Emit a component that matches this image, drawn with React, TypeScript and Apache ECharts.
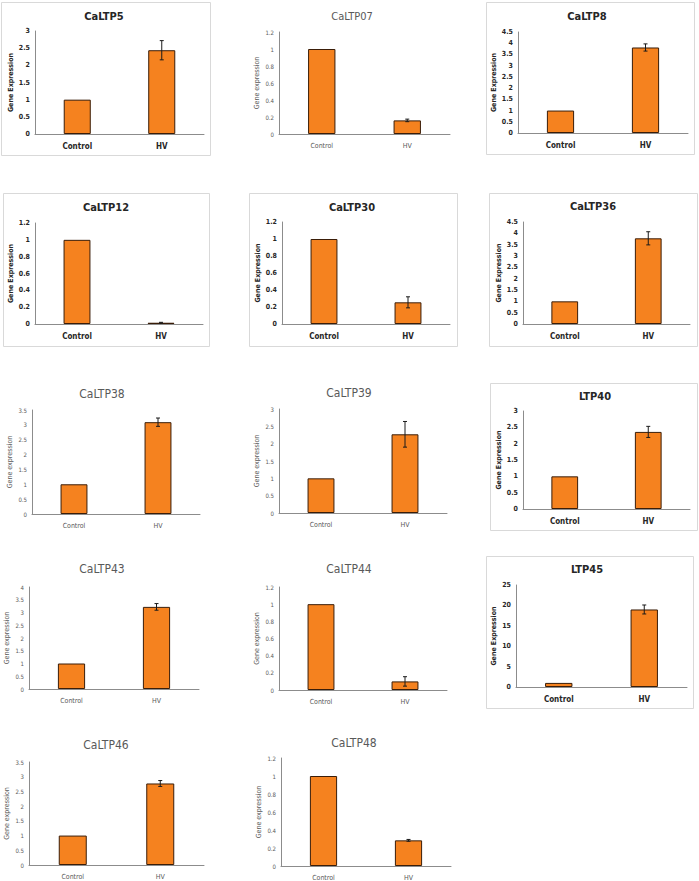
import React, { useEffect, useRef } from "react";
import * as echarts from "echarts";

const titles = ["CaLTP5", "CaLTP07", "CaLTP8", "CaLTP12", "CaLTP30", "CaLTP36", "CaLTP38", "CaLTP39", "LTP40", "CaLTP43", "CaLTP44", "LTP45", "CaLTP46", "CaLTP48"];
const categories = ["Control", "HV"];
const controlValues = [1, 1, 1, 1, 1, 1, 1, 1, 1, 1, 1, 1, 1, 1];
const controlErrors = [0, 0, 0, 0, 0, 0, 0, 0, 0, 0, 0, 0, 0, 0];
const hvValues = [2.44, 0.16, 3.81, 0.015, 0.255, 3.78, 3.09, 2.27, 2.36, 3.22, 0.1, 19, 2.77, 0.285];
const hvErrors = [0.28, 0.015, 0.16, 0.005, 0.065, 0.29, 0.14, 0.37, 0.17, 0.13, 0.055, 1.1, 0.1, 0.01];
const yMax = [3, 1.2, 4.5, 1.2, 1.2, 4.5, 3.5, 3, 3, 4, 1.2, 25, 3.5, 1.2];
const yStep = [0.5, 0.2, 0.5, 0.2, 0.2, 0.5, 0.5, 0.5, 0.5, 0.5, 0.2, 5, 0.5, 0.2];
const yNames = ["Gene Expression", "Gene expression", "Gene Expression", "Gene Expression", "Gene Expression", "Gene Expression", "Gene expression", "Gene expression", "Gene Expression", "Gene expression", "Gene expression", "Gene Expression", "Gene expression", "Gene expression"];
const excelStyle = [true, false, true, true, true, true, false, false, true, false, false, true, false, false];

// layout: plot left, plot right, plot top, plot bottom, title x, title y
const layout = [
  [35, 204, 31, 134, 104, 16],
  [279, 450, 32, 134, 352, 16],
  [518, 688, 32, 133, 587, 16],
  [35, 203, 223, 324, 106, 207],
  [282, 450, 222, 324, 352, 207],
  [523, 690, 222, 324, 593, 206],
  [32, 200, 410, 514, 102, 394],
  [279, 447, 409, 513, 349, 393],
  [523, 690, 411, 509, 595, 396],
  [29, 199, 587, 689, 102, 569],
  [279, 447, 587, 690, 349, 569],
  [516, 687, 585, 687, 587, 569],
  [29, 204, 762, 865, 106, 745],
  [281, 451, 758, 868, 354, 743],
];
// frame boxes: x, y, w, h
const boxes = [
  [1, 2, 209, 153],
  [486, 2, 208, 152],
  [3, 193, 206, 153],
  [249, 193, 208, 153],
  [489, 193, 208, 153],
  [490, 383, 207, 147],
  [486, 556, 207, 152],
];

const FONT = "'Liberation Sans Narrow', 'DejaVu Sans Condensed', 'Open Sans', sans-serif";

export default function App() {
  const ref = useRef<HTMLDivElement>(null);
  useEffect(() => {
    if (!ref.current) return;
    const chart = echarts.init(ref.current, null, { renderer: "svg" });
    const grid: any[] = [];
    const xAxis: any[] = [];
    const yAxis: any[] = [];
    const series: any[] = [];
    const graphic: any[] = [];

    boxes.forEach((b) => {
      graphic.push({
        type: "rect",
        shape: { x: b[0] + 0.5, y: b[1] + 0.5, width: b[2], height: b[3] },
        style: { fill: "none", stroke: "#d9d9d9", lineWidth: 1 },
        z: -1,
      });
    });

    titles.forEach((t, i) => {
      const [l, r, top, bot, tx, ty] = layout[i];
      const ex = excelStyle[i];
      const textColor = ex ? "#262626" : "#595959";
      const weight = ex ? "bold" : "normal";
      grid.push({ left: l, top: top, width: r - l, height: bot - top, containLabel: false });
      xAxis.push({
        type: "category",
        gridIndex: i,
        data: categories,
        axisLine: { lineStyle: { color: "#8c8c8c", width: 1 } },
        axisTick: { show: false },
        axisLabel: { color: textColor, fontWeight: weight, fontSize: ex ? 8 : 7, fontFamily: FONT, margin: 8 },
      });
      yAxis.push({
        type: "value",
        gridIndex: i,
        min: 0,
        max: yMax[i],
        interval: yStep[i],
        name: yNames[i],
        nameLocation: "middle",
        nameGap: 19,
        nameTextStyle: { color: textColor, fontWeight: weight, fontSize: 7, fontFamily: FONT },
        axisLine: { show: true, lineStyle: { color: "#8c8c8c", width: 1 } },
        axisTick: { show: false },
        splitLine: { show: false },
        axisLabel: { color: textColor, fontWeight: weight, fontSize: ex ? 7 : 6, fontFamily: FONT, margin: 5 },
      });
      series.push({
        type: "bar",
        xAxisIndex: i,
        yAxisIndex: i,
        data: [controlValues[i], hvValues[i]],
        barWidth: "32%",
        itemStyle: { color: "#F5821F", borderColor: "#3a1d08", borderWidth: 1 },
      });
      series.push({
        type: "custom",
        xAxisIndex: i,
        yAxisIndex: i,
        data: [
          [0, controlValues[i], controlErrors[i]],
          [1, hvValues[i], hvErrors[i]],
        ],
        renderItem: (params: any, api: any) => {
          const x = api.value(0);
          const v = api.value(1);
          const e = api.value(2);
          if (!e) return null;
          const hi = api.coord([x, v + e]);
          const lo = api.coord([x, v - e]);
          const cap = 2;
          const st = { stroke: "#1a1a1a", lineWidth: 1 };
          return {
            type: "group",
            children: [
              { type: "line", shape: { x1: hi[0], y1: hi[1], x2: lo[0], y2: lo[1] }, style: st },
              { type: "line", shape: { x1: hi[0] - cap, y1: hi[1], x2: hi[0] + cap, y2: hi[1] }, style: st },
              { type: "line", shape: { x1: lo[0] - cap, y1: lo[1], x2: lo[0] + cap, y2: lo[1] }, style: st },
            ],
          };
        },
        z: 5,
      });
      graphic.push({
        type: "text",
        x: tx,
        y: ty,
        style: {
          text: t,
          fill: textColor,
          font: `${weight} ${i >= 6 && !ex ? 12 : 11}px ${FONT}`,
          textAlign: "center",
          textVerticalAlign: "middle",
        },
      });
    });

    chart.setOption({
      animation: false,
      backgroundColor: "#ffffff",
      grid,
      xAxis,
      yAxis,
      series,
      graphic,
    });
    return () => chart.dispose();
  }, []);
  return (
    <div
      ref={ref}
      style={{ position: "absolute", left: 0, top: 0, width: 699, height: 881, background: "#fff" }}
    />
  );
}
